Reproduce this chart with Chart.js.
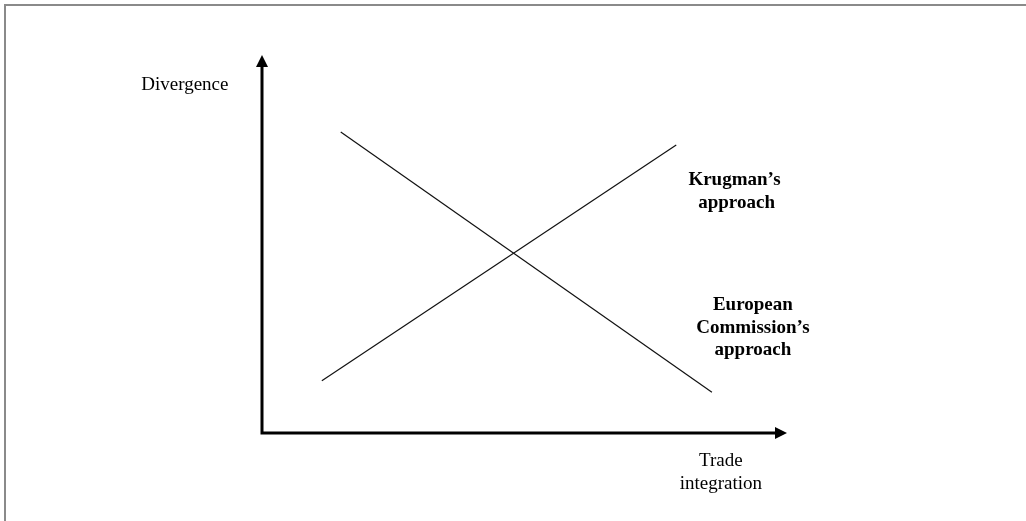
<!DOCTYPE html>
<html>
<head>
<meta charset="utf-8">
<script src="https://cdn.jsdelivr.net/npm/chart.js@4.4.1/dist/chart.umd.min.js"></script>
<style>
  body { margin: 0; background: #fff; }
  #frame { position: absolute; left: 4px; top: 4px; width: 1022px; height: 517px;
           border-left: 2px solid #8a8a8a; border-top: 2px solid #8a8a8a; }
  #chart { position: absolute; left: 0; top: 0; }
</style>
</head>
<body>
<div id="frame"></div>
<canvas id="chart" width="1026" height="521"></canvas>
<script>
"use strict";

// line endpoints in axis units (0..10 on both axes)
const krugmanX = [1.14, 7.89];
const krugmanY = [1.38, 7.62];
const commissionX = [1.50, 8.57];
const commissionY = [7.96, 1.08];

// text annotations, also placed in axis units
const labelText = ["Divergence", "Krugman\u2019s", "approach", "European", "Commission\u2019s", "approach", "Trade", "integration"];
const labelX = [-1.47, 9.0, 9.04, 9.35, 9.35, 9.35, 8.74, 8.74];
const labelY = [9.21, 6.68, 6.07, 3.39, 2.78, 2.20, -0.74, -1.35];
const labelBold = [false, true, true, true, true, true, false, false];

function toPoints(xs, ys) {
  return xs.map(function (x, i) { return { x: x, y: ys[i] }; });
}

// draws the two arrowed axes and the text labels
const axesPlugin = {
  id: "axesPlugin",
  afterDatasetsDraw: function (chart) {
    const ctx = chart.ctx;
    const xs = chart.scales.x;
    const ys = chart.scales.y;
    const x0 = xs.getPixelForValue(0);
    const y0 = ys.getPixelForValue(0);
    const xEnd = xs.getPixelForValue(10);
    const yEnd = ys.getPixelForValue(10);
    const head = 12;

    ctx.save();
    ctx.strokeStyle = "#000";
    ctx.fillStyle = "#000";
    ctx.lineWidth = 3;
    ctx.beginPath();
    ctx.moveTo(x0, yEnd + head - 1);
    ctx.lineTo(x0, y0);
    ctx.lineTo(xEnd - head + 1, y0);
    ctx.stroke();

    ctx.beginPath();
    ctx.moveTo(x0, yEnd);
    ctx.lineTo(x0 - 6, yEnd + head);
    ctx.lineTo(x0 + 6, yEnd + head);
    ctx.closePath();
    ctx.fill();

    ctx.beginPath();
    ctx.moveTo(xEnd, y0);
    ctx.lineTo(xEnd - head, y0 - 6);
    ctx.lineTo(xEnd - head, y0 + 6);
    ctx.closePath();
    ctx.fill();

    ctx.textAlign = "center";
    ctx.textBaseline = "middle";
    for (let i = 0; i < labelText.length; i++) {
      ctx.font = (labelBold[i] ? "bold " : "") + "19px 'Liberation Serif', 'Times New Roman', serif";
      ctx.fillText(labelText[i], xs.getPixelForValue(labelX[i]), ys.getPixelForValue(labelY[i]));
    }
    ctx.restore();
  }
};

const ctx = document.getElementById("chart").getContext("2d");
new Chart(ctx, {
  type: "scatter",
  data: {
    datasets: [
      {
        label: "Krugman's approach",
        data: toPoints(krugmanX, krugmanY),
        showLine: true,
        borderColor: "#111",
        borderWidth: 1.2,
        pointRadius: 0
      },
      {
        label: "European Commission's approach",
        data: toPoints(commissionX, commissionY),
        showLine: true,
        borderColor: "#111",
        borderWidth: 1.2,
        pointRadius: 0
      }
    ]
  },
  options: {
    responsive: false,
    animation: false,
    layout: { padding: { left: 262, right: 239, top: 55, bottom: 88 } },
    plugins: { legend: { display: false }, tooltip: { enabled: false } },
    scales: {
      x: { type: "linear", min: 0, max: 10, display: false },
      y: { type: "linear", min: 0, max: 10, display: false }
    }
  },
  plugins: [axesPlugin]
});
</script>
</body>
</html>
